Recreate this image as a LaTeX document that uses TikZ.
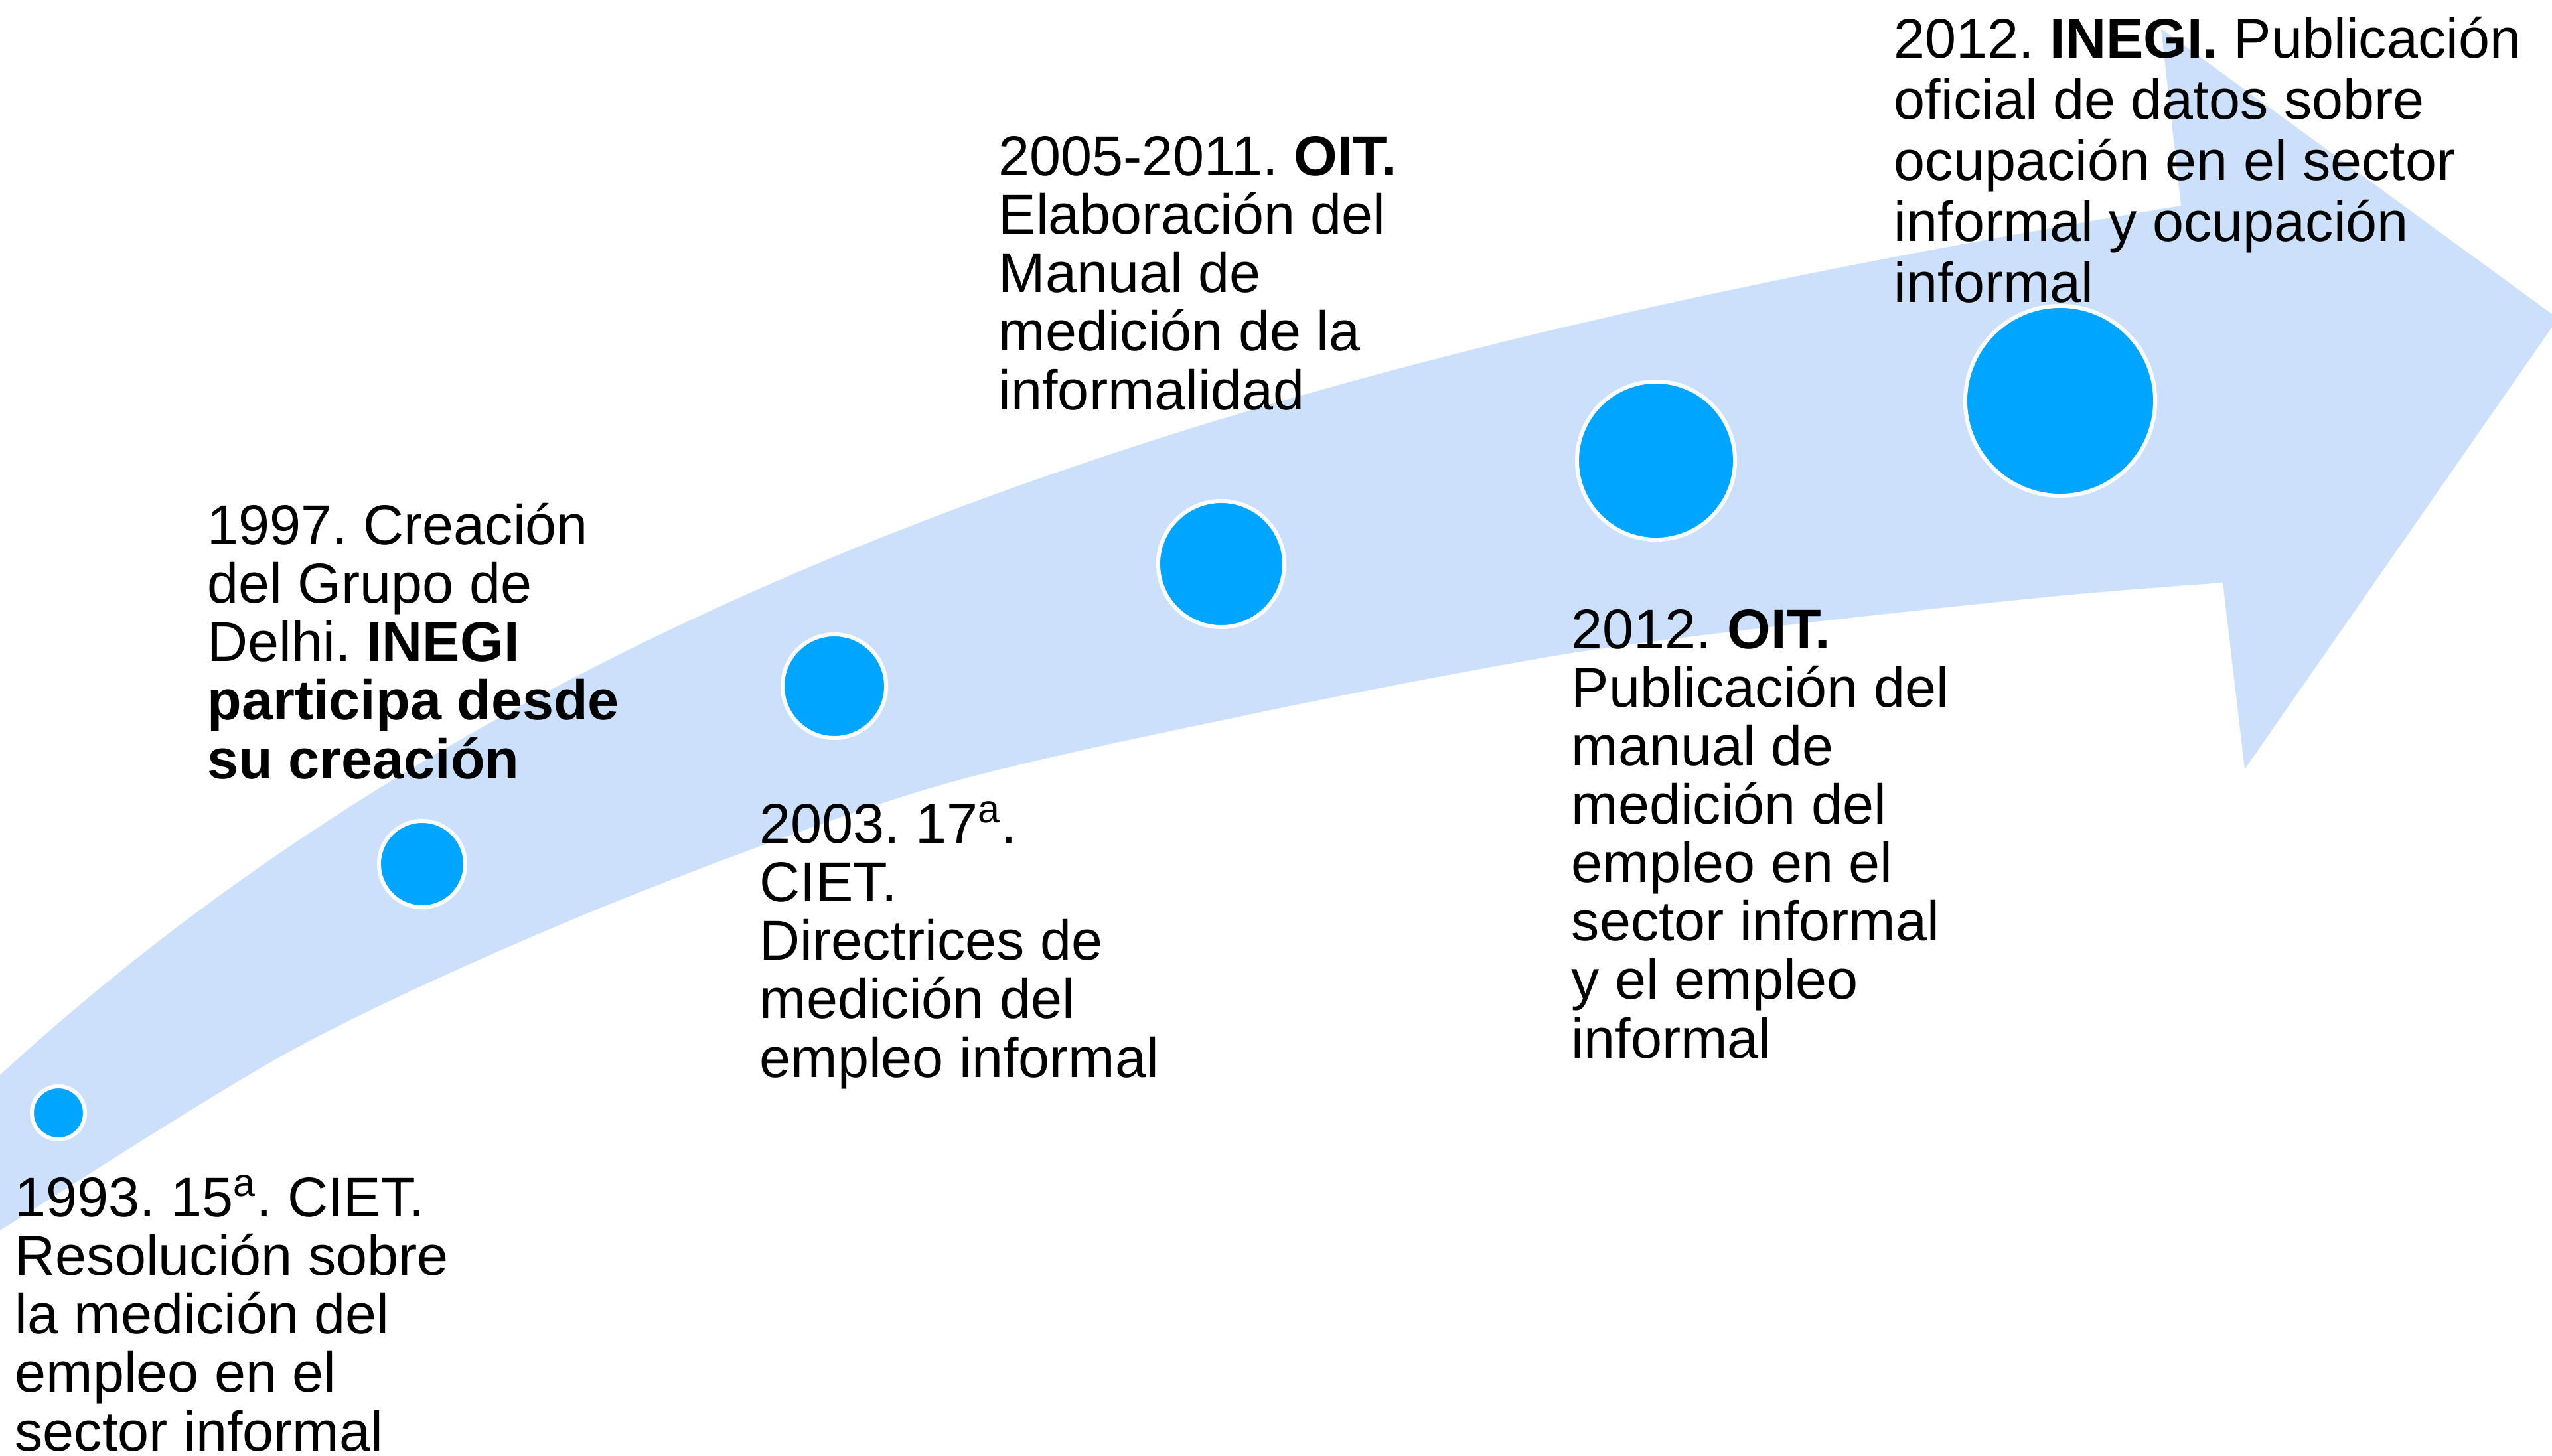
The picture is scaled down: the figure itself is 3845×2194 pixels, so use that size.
\documentclass[tikz,border=0pt]{standalone}
\usepackage{fontspec}
\setmainfont{Liberation Sans}
\frenchspacing
\definecolor{bandblue}{RGB}{204,224,252}
\definecolor{dotblue}{RGB}{0,165,255}
\begin{document}
\begin{tikzpicture}[x=0.01cm,y=-0.01cm,
  dot/.style={circle,fill=dotblue,draw=white,line width=0.06cm,inner sep=0pt},
  txt/.style={anchor=base west,inner sep=0pt,align=left,
    font=\fontsize{24.04pt}{25.04pt}\selectfont\frenchspacing},
  txtwide/.style={txt,font=\fontsize{24.04pt}{26.1pt}\selectfont\frenchspacing}]
\useasboundingbox (0,0) rectangle (3845,2194);
\begin{scope}
\clip (0,0) rectangle (3845,2194);
\fill[bandblue] (-100,1712) -- (0,1620) .. controls (900,792) and (2136,503) .. (3286,310)
  -- (3256,43) -- (3854,480) -- (3382,1159) -- (3349,878)
  -- plot[smooth] coordinates {(3349,878) (3100,898) (2700,941) (2350,987) (1900,1073) (1400,1188) (900,1370) (450,1577) (0,1854) (-100,1917)}
  -- cycle;
\end{scope}
\node[dot,minimum size=0.80cm] (c1) at (88,1677) {};
\node[dot,minimum size=1.30cm] (c2) at (636,1302) {};
\node[dot,minimum size=1.56cm] (c3) at (1257,1034) {};
\node[dot,minimum size=1.90cm] (c4) at (1840,850) {};
\node[dot,minimum size=2.38cm] (c5) at (2495,694) {};
\node[dot,minimum size=2.86cm] (c6) at (3104,604) {};
% anchors at the baseline of the last line of each text
\node[txt] (t1) at (22,2186) {1993. 15\textsuperscript{a}. CIET.\\Resolución sobre\\la medición del\\empleo en el\\sector informal};
\node[txt] (t2) at (312,1173) {1997. Creación\\del Grupo de\\Delhi. \textbf{INEGI}\\\textbf{participa desde}\\\textbf{su creación}};
\node[txt] (t3) at (1144,1623) {2003. 17\textsuperscript{a}.\\CIET.\\Directrices de\\medición del\\empleo informal};
\node[txt] (t4) at (1504,617) {2005-2011. \textbf{OIT.}\\Elaboración del\\Manual de\\medición de la\\informalidad};
\node[txt] (t5) at (2367,1594) {2012. \textbf{OIT.}\\Publicación del\\manual de\\medición del\\empleo en el\\sector informal\\y el empleo\\informal};
\node[txtwide] (t6) at (2853,455) {2012. \textbf{INEGI.} Publicación\\oficial de datos sobre\\ocupación en el sector\\informal y ocupación\\informal};
\end{tikzpicture}
\end{document}
